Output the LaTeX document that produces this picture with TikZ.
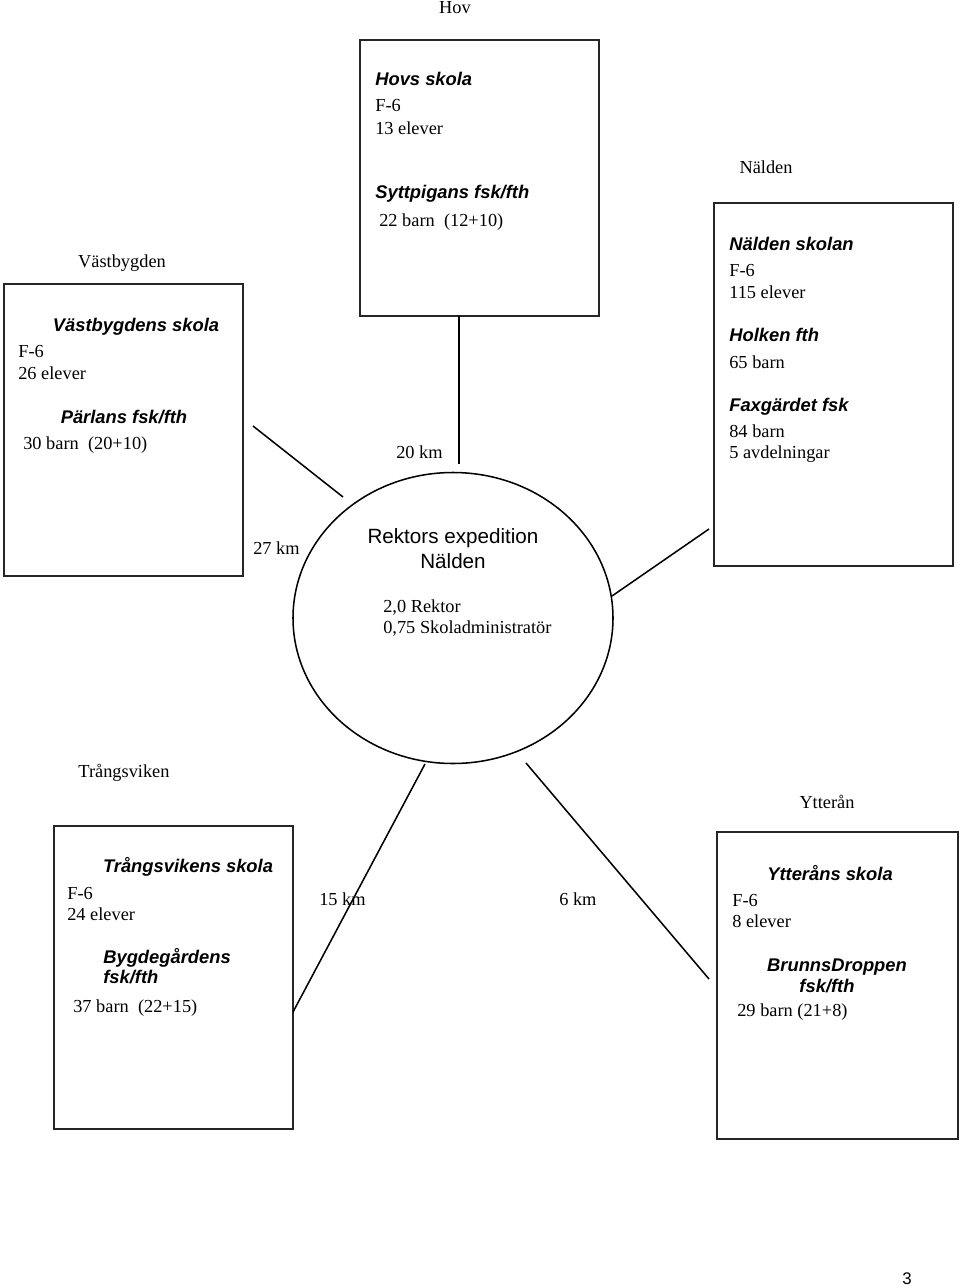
\documentclass[tikz,border=0pt]{standalone}
\usepackage{fontspec}
\setmainfont{Liberation Serif}
\newfontfamily\hdfont{Liberation Sans}
\usetikzlibrary{shapes.geometric,fit}
\tikzset{
  txt/.style={inner sep=0pt, font=\fontsize{12}{14}\selectfont},
  hd/.style={inner sep=0pt, font=\fontsize{12}{14}\selectfont\hdfont\bfseries\itshape},
  sanslbl/.style={inner sep=0pt, font=\fontsize{13.5}{16}\selectfont\hdfont},
  box/.style={draw=black!85, line width=1.1pt, inner sep=0pt},
  conn/.style={draw=black, line width=1pt},
}
\begin{document}
\begin{tikzpicture}[x=0.654pt, y=-0.654pt]
\useasboundingbox (0,0) rectangle (960,1286);
% ---- boxes ----
\coordinate (hovNW) at (360,40);  \coordinate (hovSE) at (599,316);
\node[box, fit=(hovNW)(hovSE)] (hov) {};
\coordinate (vbNW) at (4,284);  \coordinate (vbSE) at (243,576);
\node[box, fit=(vbNW)(vbSE)] (vb) {};
\coordinate (naNW) at (714,203);  \coordinate (naSE) at (953,566);
\node[box, fit=(naNW)(naSE)] (na) {};
\coordinate (trNW) at (54,826);  \coordinate (trSE) at (293,1129);
\node[box, fit=(trNW)(trSE)] (tr) {};
\coordinate (ytNW) at (717,832);  \coordinate (ytSE) at (958,1139);
\node[box, fit=(ytNW)(ytSE)] (yt) {};
% ---- central ellipse ----
\node[ellipse, draw=black, line width=1pt, minimum width=320*0.654pt, minimum height=291*0.654pt, inner sep=0pt] (rek) at (453,618) {};
% ---- connectors ----
\coordinate (vbA) at (253,426); \coordinate (vbB) at (343,497);
\draw[conn] (vbA) -- (vbB);
\coordinate (hovA) at (459,316); \coordinate (hovB) at (459,464);
\draw[conn] (hovA) -- (hovB);
\coordinate (naA) at (612,596); \coordinate (naB) at (709,529);
\draw[conn] (naA) -- (naB);
\coordinate (trA) at (425,764); \coordinate (trB) at (293,1012);
\draw[conn] (trA) -- (trB);
\coordinate (ytA) at (526,763); \coordinate (ytB) at (709,979);
\draw[conn] (ytA) -- (ytB);
% ---- place labels ----
\node[txt, anchor=base] (lhov) at (455,14) {Hov};
\node[txt, anchor=base] (lvb) at (122,267) {Västbygden};
\node[txt, anchor=base] (lna) at (766,173) {Nälden};
\node[txt, anchor=base] (ltr) at (124,777) {Trångsviken};
\node[txt, anchor=base] (lyt) at (827,808) {Ytterån};
% ---- distances ----
\node[txt, anchor=base west] (d20) at (396,458) {20 km};
\node[txt, anchor=base west] (d27) at (253,554) {27 km};
\node[txt, anchor=base west] (d15) at (319,905) {15 km};
\node[txt, anchor=base west] (d6) at (559,905) {6 km};
% ---- Hov box text ----
\node[hd, anchor=base west] (h1) at (375,86) {Hovs skola};
\node[txt, anchor=base west] (h2) at (375,112) {F-6};
\node[txt, anchor=base west] (h3) at (375,134) {13 elever};
\node[hd, anchor=base west] (h4) at (375,198) {Syttpigans fsk/fth};
\node[txt, anchor=base west] (h5) at (379,226) {22 barn\ \ (12+10)};
% ---- Västbygden box text ----
\node[hd, anchor=base] (v1) at (136,331) {Västbygdens skola};
\node[txt, anchor=base west] (v2) at (18,357) {F-6};
\node[txt, anchor=base west] (v3) at (18,379) {26 elever};
\node[hd, anchor=base] (v4) at (124,423) {Pärlans fsk/fth};
\node[txt, anchor=base west] (v5) at (23,449) {30 barn\ \ (20+10)};
% ---- Nälden box text ----
\node[hd, anchor=base west] (n1) at (729,250) {Nälden skolan};
\node[txt, anchor=base west] (n2) at (729,276) {F-6};
\node[txt, anchor=base west] (n3) at (729,298) {115 elever};
\node[hd, anchor=base west] (n4) at (729,341) {Holken fth};
\node[txt, anchor=base west] (n5) at (729,368) {65 barn};
\node[hd, anchor=base west] (n6) at (729,411) {Faxgärdet fsk};
\node[txt, anchor=base west] (n7) at (729,437) {84 barn};
\node[txt, anchor=base west] (n8) at (729,458) {5 avdelningar};
% ---- ellipse text ----
\node[sanslbl, anchor=base] (r1) at (453,543) {Rektors expedition};
\node[sanslbl, anchor=base] (r2) at (453,568) {Nälden};
\node[txt, anchor=base west] (r3) at (383,612) {2,0 Rektor};
\node[txt, anchor=base west] (r4) at (383,633) {0,75 Skoladministratör};
% ---- Trångsviken box text ----
\node[hd, anchor=base] (t1) at (188,872) {Trångsvikens skola};
\node[txt, anchor=base west] (t2) at (67,899) {F-6};
\node[txt, anchor=base west] (t3) at (67,920) {24 elever};
\node[hd, anchor=base west] (t4) at (103,963) {Bygdegårdens};
\node[hd, anchor=base west] (t5) at (103,983) {fsk/fth};
\node[txt, anchor=base west] (t6) at (73,1012) {37 barn\ \ (22+15)};
% ---- Ytterån box text ----
\node[hd, anchor=base] (y1) at (830,880) {Ytteråns skola};
\node[txt, anchor=base west] (y2) at (732,906) {F-6};
\node[txt, anchor=base west] (y3) at (732,927) {8 elever};
\node[hd, anchor=base] (y4) at (837,971) {BrunnsDroppen};
\node[hd, anchor=base] (y5) at (827,992) {fsk/fth};
\node[txt, anchor=base west] (y6) at (737,1016) {29 barn (21+8)};
% ---- page number ----
\node[inner sep=0pt, anchor=base, font=\fontsize{11}{13}\selectfont\hdfont] (pg) at (907,1284) {3};
\end{tikzpicture}
\end{document}
